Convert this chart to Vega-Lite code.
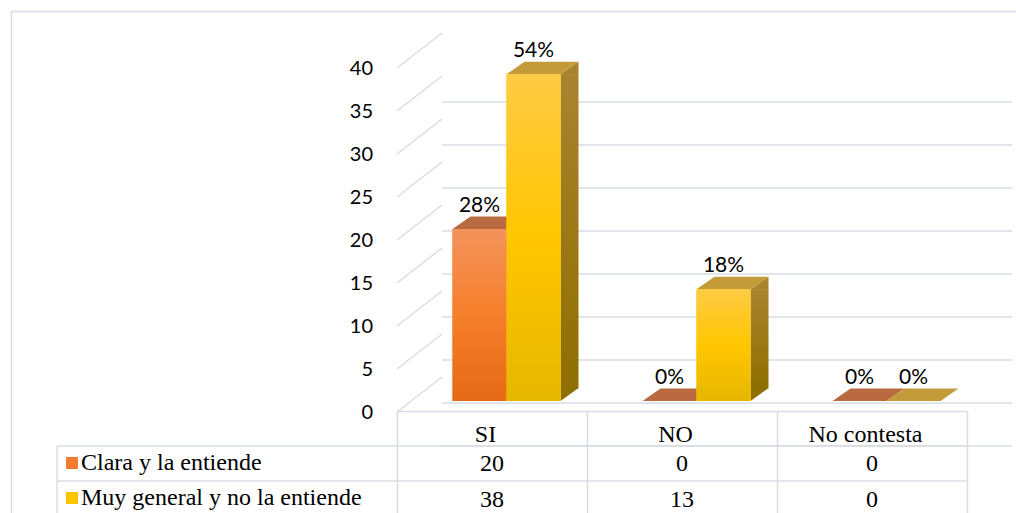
{
  "$schema": "https://vega.github.io/schema/vega-lite/v6.json",
  "autosize": "none",
  "width": 570,
  "height": 513,
  "padding": {"left": 397, "top": 0, "right": 49, "bottom": 0},
  "background": "white",
  "config": {"view": {"stroke": null}},
  "datasets": {
    "respuestas": [
      {"respuesta": "SI", "opinion": "Clara y la entiende", "cantidad": 20, "porcentaje": "28%"},
      {"respuesta": "SI", "opinion": "Muy general y no la entiende", "cantidad": 38, "porcentaje": "54%"},
      {"respuesta": "NO", "opinion": "Clara y la entiende", "cantidad": 0, "porcentaje": "0%"},
      {"respuesta": "NO", "opinion": "Muy general y no la entiende", "cantidad": 13, "porcentaje": "18%"},
      {"respuesta": "No contesta", "opinion": "Clara y la entiende", "cantidad": 0, "porcentaje": "0%"},
      {"respuesta": "No contesta", "opinion": "Muy general y no la entiende", "cantidad": 0, "porcentaje": "0%"}
    ],
    "escala": [
      {"valor": 0}, {"valor": 5}, {"valor": 10}, {"valor": 15}, {"valor": 20},
      {"valor": 25}, {"valor": 30}, {"valor": 35}, {"valor": 40}
    ]
  },
  "data": {"name": "respuestas"},
  "resolve": {"scale": {"fill": "independent"}},
  "layer": [
    {
      "data": {"name": "escala"},
      "mark": {"type": "point", "shape": "M0,11L45,-24", "size": 4, "filled": false, "stroke": "#D9DCE3", "strokeWidth": 1.5, "opacity": 1},
      "encoding": {
        "x": {"datum": "SI", "type": "nominal", "bandPosition": 0, "scale": {"domain": ["SI", "NO", "No contesta"], "paddingInner": 0, "paddingOuter": 0}},
        "y": {
          "field": "valor", "type": "quantitative", "title": null,
          "scale": {"domain": [0, 40], "range": [401, 57]},
          "axis": {
            "orient": "left", "values": [0, 5, 10, 15, 20, 25, 30, 35, 40], "title": null,
            "grid": true, "gridColor": "#D9DCE3", "gridWidth": 1.5,
            "domain": false, "ticks": false, "tickSize": 0,
            "translate": 45, "position": -69,
            "labelPadding": 69, "labelOffset": 36,
            "labelFont": "Lato", "labelFontSize": 20, "labelColor": "#000000"
          }
        }
      }
    },
    {
      "transform": [{"filter": "datum.opinion === 'Clara y la entiende' && datum.cantidad > 0"}],
      "mark": {"type": "bar", "width": 18, "xOffset": 23.5, "y2Offset": -12.5,
        "color": {"gradient": "linear", "x1": 0, "y1": 0, "x2": 0, "y2": 1, "stops": [{"offset": 0, "color": "#B66A3A"}, {"offset": 1, "color": "#9A4E12"}]}},
      "encoding": {
        "x": {"field": "respuesta", "type": "nominal", "title": null},
        "y": {"field": "cantidad", "type": "quantitative", "title": null},
        "y2": {"datum": 0}
      }
    },
    {
      "transform": [{"filter": "datum.opinion === 'Muy general y no la entiende' && datum.cantidad > 0"}],
      "mark": {"type": "bar", "width": 18, "xOffset": 77.5, "y2Offset": -12.5,
        "color": {"gradient": "linear", "x1": 0, "y1": 0, "x2": 0, "y2": 1, "stops": [{"offset": 0, "color": "#A8842F"}, {"offset": 1, "color": "#8E6F00"}]}},
      "encoding": {
        "x": {"field": "respuesta", "type": "nominal", "title": null},
        "y": {"field": "cantidad", "type": "quantitative", "title": null},
        "y2": {"datum": 0}
      }
    },
    {
      "transform": [{"filter": "datum.cantidad > 0"}],
      "mark": {"type": "point", "shape": "M27,0L45,-12.5L45,0.6L27,0.6Z", "size": 4, "filled": true, "strokeWidth": 0, "opacity": 1},
      "encoding": {
        "x": {"field": "respuesta", "type": "nominal", "title": null},
        "xOffset": {"field": "opinion", "type": "nominal", "scale": {"domain": ["Clara y la entiende", "Muy general y no la entiende"], "paddingInner": 0, "paddingOuter": 0.759, "align": 0.677}},
        "y": {"field": "cantidad", "type": "quantitative", "title": null},
        "fill": {"field": "opinion", "type": "nominal", "legend": null, "scale": {"domain": ["Clara y la entiende", "Muy general y no la entiende"], "range": ["#B66A3A", "#A8842F"]}}
      }
    },
    {
      "transform": [{"filter": "datum.cantidad > 0"}],
      "mark": {"type": "point", "shape": "M27,-13.1L45,-13.1L27,0Z", "size": 4, "filled": true, "strokeWidth": 0, "opacity": 1},
      "encoding": {
        "x": {"field": "respuesta", "type": "nominal", "title": null},
        "xOffset": {"field": "opinion", "type": "nominal"},
        "y": {"datum": 0, "type": "quantitative"},
        "fill": {"field": "opinion", "type": "nominal", "legend": null, "scale": {"domain": ["Clara y la entiende", "Muy general y no la entiende"], "range": ["#9A4E12", "#8E6F00"]}}
      }
    },
    {
      "mark": {"type": "point", "shape": "M-27,0L27,0L45,-12.5L-9,-12.5Z", "size": 4, "filled": true, "strokeWidth": 0, "opacity": 1},
      "encoding": {
        "x": {"field": "respuesta", "type": "nominal", "title": null},
        "xOffset": {"field": "opinion", "type": "nominal"},
        "y": {"field": "cantidad", "type": "quantitative", "title": null},
        "fill": {"field": "opinion", "type": "nominal", "legend": null, "scale": {"domain": ["Clara y la entiende", "Muy general y no la entiende"], "range": ["#B96A41", "#C39B38"]}}
      }
    },
    {
      "mark": {"type": "bar"},
      "encoding": {
        "x": {
          "field": "respuesta", "type": "nominal", "title": null,
          "axis": {
            "orient": "bottom", "offset": -102, "title": null, "labelAngle": 0, "grid": false,
            "domainColor": "#D9DCE3", "domainWidth": 1.5,
            "tickBand": "extent", "tickColor": "#D9DCE3", "tickWidth": 1.5, "tickSize": 110,
            "labelPadding": -80, "labelBaseline": "alphabetic", "labelAlign": "center", "labelOffset": -7,
            "labelFont": "Liberation Serif", "labelFontSize": 24, "labelColor": "#000000"
          }
        },
        "xOffset": {"field": "opinion", "type": "nominal"},
        "y": {"field": "cantidad", "type": "quantitative", "title": null},
        "color": {
          "field": "opinion", "type": "nominal",
          "scale": {"domain": ["Clara y la entiende", "Muy general y no la entiende"], "range": ["#F07D30", "#FFC400"]},
          "legend": {
            "orient": "none", "legendX": -337, "legendY": 451, "title": null,
            "symbolType": "square", "symbolSize": 144, "symbolStrokeWidth": 0,
            "labelFont": "Liberation Serif", "labelFontSize": 24, "labelColor": "#000000",
            "labelOffset": -3, "rowPadding": 11, "labelLimit": 400
          }
        }
      }
    },
    {
      "mark": {"type": "bar"},
      "encoding": {
        "x": {"field": "respuesta", "type": "nominal", "title": null},
        "xOffset": {"field": "opinion", "type": "nominal"},
        "y": {"field": "cantidad", "type": "quantitative", "title": null},
        "fill": {
          "condition": {"test": "datum.opinion === 'Clara y la entiende'", "value": {"gradient": "linear", "x1": 0, "y1": 0, "x2": 0, "y2": 1, "stops": [{"offset": 0, "color": "#F3935C"}, {"offset": 0.5, "color": "#F67F2B"}, {"offset": 1, "color": "#E56A18"}]}},
          "value": {"gradient": "linear", "x1": 0, "y1": 0, "x2": 0, "y2": 1, "stops": [{"offset": 0, "color": "#FFCB45"}, {"offset": 0.5, "color": "#FFC600"}, {"offset": 1, "color": "#E6B700"}]}
        }
      }
    },
    {
      "mark": {"type": "text", "font": "Lato", "fontSize": 21, "color": "#000000", "baseline": "alphabetic", "dy": -17},
      "encoding": {
        "x": {"field": "respuesta", "type": "nominal", "title": null},
        "xOffset": {"field": "opinion", "type": "nominal"},
        "y": {"field": "cantidad", "type": "quantitative", "title": null},
        "text": {"field": "porcentaje"}
      }
    },
    {
      "transform": [{"filter": "datum.opinion === 'Clara y la entiende'"}],
      "mark": {"type": "text", "font": "Liberation Serif", "fontSize": 24, "color": "#000000", "baseline": "alphabetic", "dy": 70},
      "encoding": {
        "x": {"field": "respuesta", "type": "nominal", "title": null},
        "y": {"datum": 0, "type": "quantitative"},
        "text": {"field": "cantidad", "type": "quantitative"}
      }
    },
    {
      "transform": [{"filter": "datum.opinion === 'Muy general y no la entiende'"}],
      "mark": {"type": "text", "font": "Liberation Serif", "fontSize": 24, "color": "#000000", "baseline": "alphabetic", "dy": 105.5},
      "encoding": {
        "x": {"field": "respuesta", "type": "nominal", "title": null},
        "y": {"datum": 0, "type": "quantitative"},
        "text": {"field": "cantidad", "type": "quantitative"}
      }
    },
    {
      "transform": [{"aggregate": [{"op": "count", "as": "filas"}]}],
      "mark": {"type": "rule", "color": "#D9DCE3", "strokeWidth": 1.5, "xOffset": -340, "yOffset": 45},
      "encoding": {
        "x": {"datum": "SI", "type": "nominal", "bandPosition": 0},
        "x2": {"datum": "No contesta", "bandPosition": 1},
        "y": {"datum": 0, "type": "quantitative"}
      }
    },
    {
      "transform": [{"aggregate": [{"op": "count", "as": "filas"}]}],
      "mark": {"type": "rule", "color": "#D9DCE3", "strokeWidth": 1.5, "xOffset": -340, "yOffset": 80},
      "encoding": {
        "x": {"datum": "SI", "type": "nominal", "bandPosition": 0},
        "x2": {"datum": "No contesta", "bandPosition": 1},
        "y": {"datum": 0, "type": "quantitative"}
      }
    },
    {
      "transform": [{"aggregate": [{"op": "count", "as": "filas"}]}],
      "mark": {"type": "rule", "color": "#D9DCE3", "strokeWidth": 1.5, "xOffset": -340, "yOffset": 446},
      "encoding": {
        "x": {"datum": "SI", "type": "nominal", "bandPosition": 0}
      }
    },
    {
      "transform": [{"aggregate": [{"op": "count", "as": "filas"}]}],
      "mark": {"type": "rule", "color": "#D9DCE3", "strokeWidth": 1.5, "xOffset": -385.5, "yOffset": 11.5},
      "encoding": {
        "x": {"datum": "SI", "type": "nominal", "bandPosition": 0}
      }
    },
    {
      "transform": [{"aggregate": [{"op": "count", "as": "filas"}]}],
      "mark": {"type": "rule", "color": "#D9DCE3", "strokeWidth": 1.5, "xOffset": -385.5, "x2Offset": 60, "yOffset": -45.5},
      "encoding": {
        "x": {"datum": "SI", "type": "nominal", "bandPosition": 0},
        "x2": {"datum": "No contesta", "bandPosition": 1},
        "y": {"datum": 40, "type": "quantitative"}
      }
    }
  ]
}
